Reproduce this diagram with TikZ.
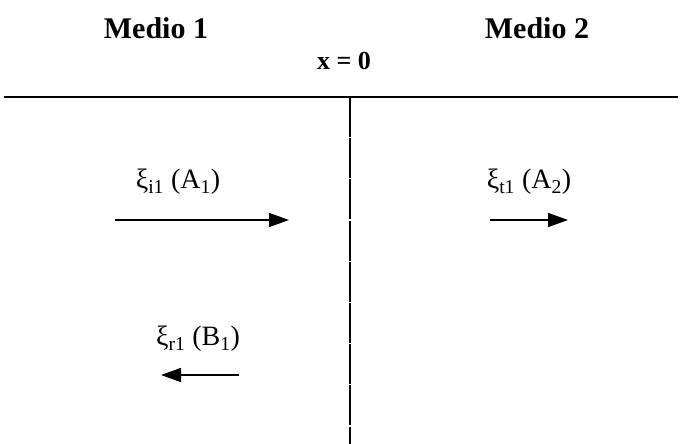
\documentclass[tikz,border=0pt]{standalone}
\usepackage{fontspec}
\setmainfont{Liberation Serif}
\usetikzlibrary{arrows.meta}
\begin{document}
\begin{tikzpicture}[x=1pt,y=-1pt,
  title/.style={font=\fontsize{30}{34}\selectfont\bfseries, inner sep=0pt},
  lab/.style={font=\fontsize{28}{32}\selectfont, inner sep=0pt},
  wave/.style={line width=1.6pt, -{Triangle[length=20pt,width=14pt]}},
  border/.style={line width=1.5pt}]
\useasboundingbox (0,0) rectangle (683,444);
\node[title] (m1) at (156,28) {Medio 1};
\node[title] (m2) at (537,28) {Medio 2};
\node[title, font=\fontsize{26}{30}\selectfont\bfseries] (x0) at (344,61) {x = 0};
\coordinate (hl) at (4,97);
\coordinate (hr) at (678,97);
\coordinate (vt) at (350,97);
\coordinate (vb) at (350,444);
\draw[border] (hl) -- (hr);
\draw[line width=1.3pt, dash pattern=on 40pt off 1.2pt] (vt) -- (vb);
\node[lab] (li) at (178,182) {ξ\textsubscript{i1} (A\textsubscript{1})};
\coordinate (a1s) at (115,220);
\coordinate (a1e) at (289,220);
\draw[wave] (a1s) -- (a1e);
\node[lab] (lt) at (529,182) {ξ\textsubscript{t1} (A\textsubscript{2})};
\coordinate (a2s) at (490,220);
\coordinate (a2e) at (568,220);
\draw[wave] (a2s) -- (a2e);
\node[lab] (lr) at (198,339) {ξ\textsubscript{r1} (B\textsubscript{1})};
\coordinate (a3s) at (239,375);
\coordinate (a3e) at (161,375);
\draw[wave] (a3s) -- (a3e);
\end{tikzpicture}
\end{document}
